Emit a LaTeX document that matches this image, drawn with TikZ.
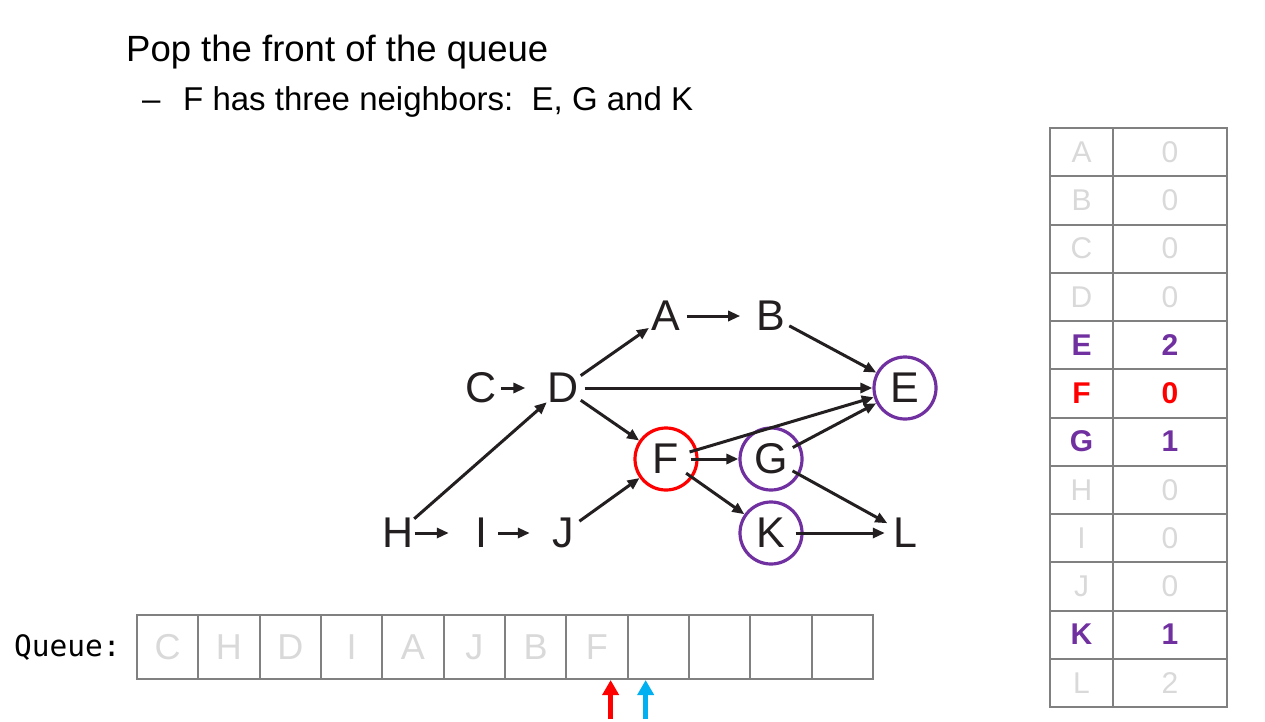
\documentclass[tikz,border=0pt]{standalone}
\usepackage{fontspec}
\setmainfont{Liberation Sans}
\newfontfamily\queuefont{DejaVu Sans Mono}
\usetikzlibrary{arrows.meta}
\definecolor{vpurple}{HTML}{7030A0}
\definecolor{faded}{HTML}{D9D9D9}
\definecolor{gridgray}{HTML}{808080}
\definecolor{ptrblue}{HTML}{00B0F0}
\definecolor{ink}{HTML}{231F20}
\begin{document}
\begin{tikzpicture}[x=1pt,y=-1pt,
  vtx/.style={circle, inner sep=0pt, minimum size=40pt, text=ink,
    font=\fontsize{43}{43}\selectfont},
  ring/.style={vtx, draw, line width=3.2pt, minimum size=62pt},
  edge/.style={draw=ink, line width=3pt, -{Triangle[length=12pt,width=10pt]}},
  fromring/.style={edge, shorten <=-8pt},
  cell/.style={draw=gridgray, line width=2pt, minimum width=61.3pt, minimum height=64pt,
    inner sep=0pt, text=faded, font=\fontsize{36}{36}\selectfont},
  tcell/.style={draw=gridgray, line width=2pt, minimum height=48.25pt, inner sep=0pt,
    font=\fontsize{30}{30}\selectfont},
  plainrow/.style={text=faded},
  purplerow/.style={text=vpurple, font=\fontsize{30}{30}\selectfont\bfseries},
  redrow/.style={text=red, font=\fontsize{30}{30}\selectfont\bfseries},
  ptr/.style={line width=5pt, -{Triangle[length=15pt,width=16pt]}}
]
\useasboundingbox (0,0) rectangle (1265,722);
\fill[white] (0,0) rectangle (1265,722);

% heading
\node[anchor=base west, inner sep=0pt, font=\fontsize{36.5}{36.5}\selectfont] (title) at (126,62)
  {Pop the front of the queue};
\node[anchor=base west, inner sep=0pt, font=\fontsize{33}{33}\selectfont] (dash) at (142,111) {--};
\node[anchor=base west, inner sep=0pt, font=\fontsize{33}{33}\selectfont] (sub) at (183,111)
  {F has three neighbors:\ \ E, G and K};

% graph vertices
\node[vtx] (A) at (666,316) {A};
\node[vtx] (B) at (771,316) {B};
\node[vtx] (C) at (481,388) {C};
\node[vtx] (D) at (563,388) {D};
\node[ring, draw=vpurple] (E) at (905,388) {E};
\node[ring, draw=red] (F) at (666,459) {F};
\node[ring, draw=vpurple] (G) at (771,459) {G};
\node[vtx] (H) at (398,533) {H};
\node[vtx] (I) at (481,533) {I};
\node[vtx] (J) at (563,533) {J};
\node[ring, draw=vpurple] (K) at (771,533) {K};
\node[vtx] (L) at (905,533) {L};

% graph edges
\draw[edge, shorten >=10pt] (A) -- (B);
\draw[edge] (B) -- (E);
\draw[edge, shorten <=-2pt, shorten >=16pt] (C) -- (D);
\draw[edge] (D) -- (A);
\draw[edge] (D) -- (E);
\draw[edge] (D) -- (F);
\draw[fromring] (F) -- (E);
\draw[fromring] (F) -- (G);
\draw[fromring] (F) -- (K);
\draw[fromring] (G) -- (E);
\draw[fromring] (G) -- (L);
\draw[edge] (H) -- (D);
\draw[edge, shorten <=-5pt, shorten >=12pt] (H) -- (I);
\draw[edge, shorten <=-3pt, shorten >=13pt] (I) -- (J);
\draw[edge] (J) -- (F);
\draw[fromring] (K) -- (L);

% queue
\node[anchor=base west, inner sep=0pt, font=\queuefont\fontsize{29.5}{29.5}\selectfont] (qlabel) at (14,656) {Queue:};
\foreach \i/\t in {1/C,2/H,3/D,4/I,5/A,6/J,7/B,8/F,9/,10/,11/,12/} {
  \node[cell] (q\i) at ({137+61.33*(\i-0.5)},647) {\t};
}
\coordinate (headptr) at ([xshift=-18pt]q8.south east);
\coordinate (tailptr) at ([xshift=19pt]q9.south west);
\coordinate (headfoot) at ([yshift=-39pt]headptr);
\coordinate (tailfoot) at ([yshift=-39pt]tailptr);
\draw[ptr, red] (headfoot) -- (headptr);
\draw[ptr, ptrblue] (tailfoot) -- (tailptr);

% in-degree table
\foreach \r/\v/\n/\sty in {1/A/0/plainrow,2/B/0/plainrow,3/C/0/plainrow,4/D/0/plainrow,
    5/E/2/purplerow,6/F/0/redrow,7/G/1/purplerow,8/H/0/plainrow,
    9/I/0/plainrow,10/J/0/plainrow,11/K/1/purplerow,12/L/2/plainrow} {
  \node[tcell, minimum width=63pt, \sty] (k\r) at (1081.5,{128+48.25*(\r-0.5)}) {\v};
  \node[tcell, minimum width=114pt, \sty] (n\r) at (1170,{128+48.25*(\r-0.5)}) {\n};
}
\end{tikzpicture}
\end{document}
